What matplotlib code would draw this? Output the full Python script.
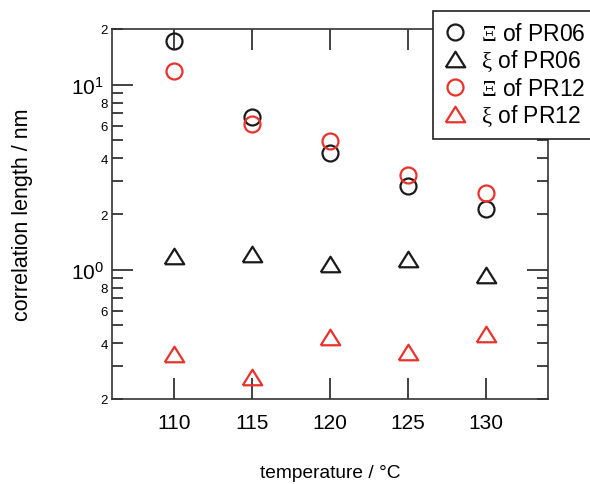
import matplotlib
matplotlib.use("Agg")
import matplotlib.pyplot as plt
from matplotlib.ticker import LogLocator, FuncFormatter, LogFormatterSciNotation
import numpy as np

plt.rcParams['font.family'] = ['Liberation Sans', 'DejaVu Sans']
plt.rcParams['mathtext.fontset'] = 'custom'
plt.rcParams['mathtext.rm'] = 'Liberation Serif'
plt.rcParams['mathtext.it'] = 'Liberation Serif:italic'

temperature = [110, 115, 120, 125, 130]
Xi_PR06 = [17.2, 6.66, 4.26, 2.84, 2.13]
xi_PR06 = [1.18, 1.21, 1.07, 1.14, 0.94]
Xi_PR12 = [11.8, 6.13, 4.98, 3.25, 2.60]
xi_PR12 = [0.35, 0.262, 0.431, 0.358, 0.449]

labels = [r'$\mathrm{\Xi}$ of PR06', r'$\mathrm{\xi}$ of PR06',
          r'$\mathrm{\Xi}$ of PR12', r'$\mathrm{\xi}$ of PR12']
red = '#e8322a'
black = '#1a1a1a'

tri = [(-1, -0.8), (1, -0.8), (0, 0.8), (-1, -0.8)]

fig = plt.figure(figsize=(5.9, 4.85), dpi=100)
ax = fig.add_axes([112/590, 85/485, 436/590, 370/485])

kw = dict(linestyle='none', markerfacecolor='none', markeredgewidth=1.6)
ax.plot(temperature, Xi_PR06, marker='o', markersize=11.5, markeredgecolor=black, label=labels[0], **kw)
ax.plot(temperature, xi_PR06, marker=tri, markersize=14, markeredgecolor=black, label=labels[1], **kw)
ax.plot(temperature, Xi_PR12, marker='o', markersize=11.5, markeredgecolor=red, label=labels[2], **kw)
ax.plot(temperature, xi_PR12, marker=tri, markersize=14, markeredgecolor=red, label=labels[3], **kw)

ax.set_yscale('log')
ax.set_ylim(0.2, 20)
ax.set_xlim(106, 134)
ax.set_xticks([110, 115, 120, 125, 130])

ax.yaxis.set_major_locator(LogLocator(base=10, numticks=10))
ax.yaxis.set_minor_locator(LogLocator(base=10, subs=np.arange(2, 10), numticks=20))
ax.yaxis.set_major_formatter(LogFormatterSciNotation())

def minor_fmt(v, pos):
    m = v / 10 ** np.floor(np.log10(v) + 1e-9)
    mi = int(round(m))
    if mi in (2, 4, 6, 8):
        return str(mi)
    return ''
ax.yaxis.set_minor_formatter(FuncFormatter(minor_fmt))

ax.tick_params(which='both', direction='in', top=True, right=True, color='#222222', width=1.2)
ax.tick_params(which='major', length=15, labelsize=15, pad=6)
ax.tick_params(axis='y', which='minor', length=8, labelsize=9.5, pad=3)
ax.tick_params(axis='x', which='major', pad=10)
for s in ax.spines.values():
    s.set_linewidth(1.2)
    s.set_color('#333333')

ax.set_xlabel('temperature / °C', fontsize=13.8)
ax.xaxis.set_label_coords(0.5, -(465 - 400) / 370)
ax.set_ylabel('correlation length / nm', fontsize=15.5)
ax.yaxis.set_label_coords(-0.182, 0.5)

leg = ax.legend(loc='upper left', bbox_to_anchor=(433/590, 1 - 12/485), bbox_transform=fig.transFigure,
                fontsize=16.5, frameon=True, fancybox=False, framealpha=1, edgecolor='#222222',
                handlelength=1.0, handletextpad=0.62, labelspacing=0.15, borderpad=0.46, borderaxespad=0)
leg.get_frame().set_linewidth(1.2)

fig.savefig('out.png', dpi=100)
